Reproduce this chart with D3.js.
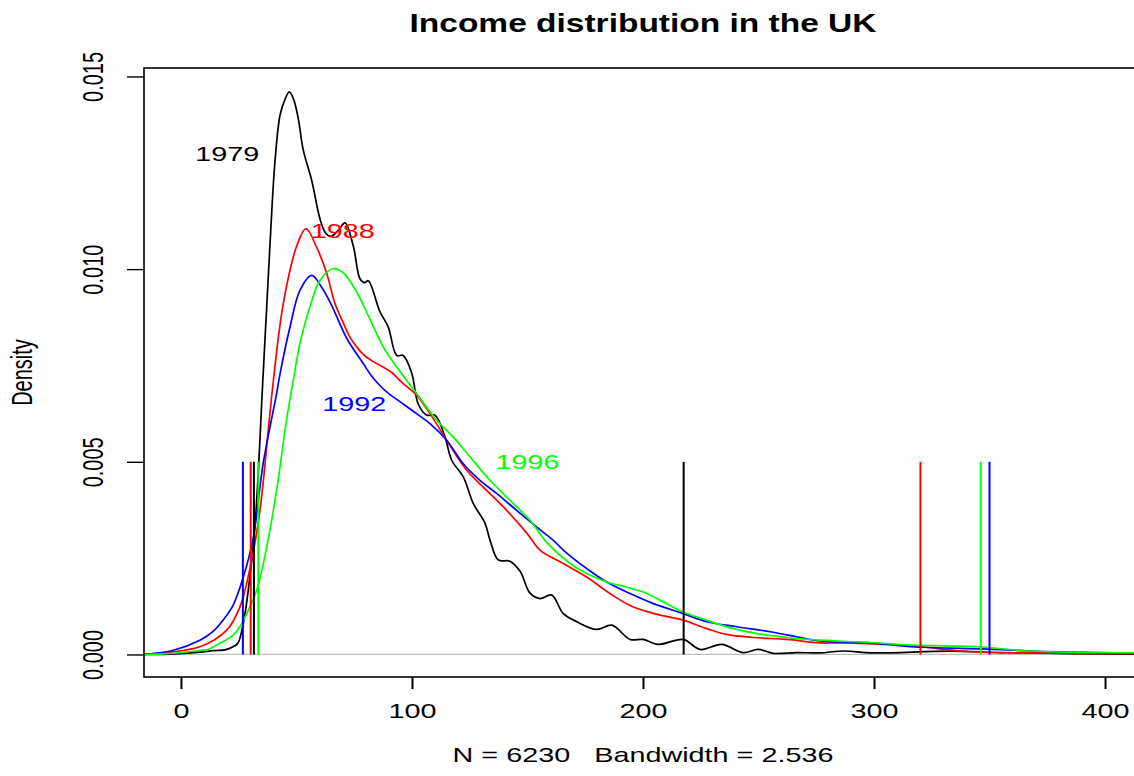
<!DOCTYPE html>
<html>
<head>
<meta charset="utf-8">
<script src="https://cdn.jsdelivr.net/npm/d3@7"></script>
<style>
  html, body { margin: 0; padding: 0; background: #fff; }
  svg { display: block; font-family: "Liberation Sans", Arial, Helvetica, sans-serif; }
  text { white-space: pre; }
</style>
</head>
<body>
<svg id="chart" width="1134" height="776"></svg>
<script>
// ---------------- data ----------------
const years = ["1979", "1988", "1992", "1996"];

const income1979 = [-16, -5, 8, 14, 19, 22.5, 24.7, 26.8, 29, 32, 35.6, 38.5, 40.7, 42.9, 45, 46.9, 48.8, 50.8, 52.9, 56.6, 60.2, 62.5, 64.8, 68, 71, 74.6, 77.5, 79.5, 81.1, 86.1, 89.7, 93.4, 96.2, 99.9, 102.7, 106.4, 110, 114.3, 117.2, 122.2, 126.5, 131.6, 133.8, 137.4, 142.4, 146.8, 151.1, 155.4, 160.5, 165.5, 171.3, 180, 186.5, 194.4, 200.1, 206.6, 217.4, 224.7, 234.1, 243.4, 249.9, 256.4, 266.5, 276.6, 287, 299, 333, 354.5, 367, 389, 416];
const density1979 = [0, 0.00001, 0.00006, 0.0001, 0.00012, 0.0002, 0.0003, 0.00075, 0.0016, 0.0033, 0.0073, 0.0106, 0.0128, 0.0140, 0.0144, 0.0146, 0.0144, 0.0139, 0.0131, 0.0123, 0.0113, 0.01095, 0.01085, 0.0110, 0.0112, 0.0106, 0.00975, 0.00965, 0.0097, 0.0089, 0.0085, 0.00776, 0.00776, 0.0073, 0.0065, 0.00621, 0.00621, 0.00564, 0.00504, 0.00461, 0.00392, 0.00341, 0.00296, 0.00245, 0.00242, 0.00216, 0.00159, 0.00145, 0.00154, 0.00106, 0.00085, 0.00065, 0.00076, 0.00039, 0.00039, 0.00026, 0.00039, 0.00013, 0.00026, 0.00005, 0.00013, 0.00003, 0.00005, 0.00004, 0.00009, 0.00004, 0.000085, 0.00005, 0.00004, 0.00002, 0.00001];

const income1988 = [-16, 8.2, 19.8, 25.5, 29.9, 34.2, 37.8, 40, 43.6, 47.2, 50.1, 54.1, 58.7, 63.1, 66.7, 70.3, 73, 76.1, 79, 83.2, 90.5, 96.2, 102, 107.8, 115, 123.7, 132.3, 141, 149.7, 155.4, 165.5, 175.6, 185.7, 195.8, 207.4, 217.4, 227.6, 236.2, 247.8, 262.2, 276.6, 285.7, 316.2, 341.6, 367.1, 416];
const density1988 = [0, 0.0002, 0.00063, 0.00123, 0.00224, 0.00374, 0.00582, 0.00711, 0.00885, 0.00997, 0.0106, 0.01105, 0.01057, 0.00989, 0.0091, 0.0086, 0.00825, 0.00798, 0.00778, 0.0076, 0.00735, 0.00703, 0.00673, 0.00625, 0.00556, 0.00478, 0.00426, 0.00374, 0.00315, 0.00271, 0.00236, 0.00201, 0.00158, 0.00123, 0.00102, 0.00089, 0.00067, 0.00052, 0.00044, 0.00039, 0.0003, 0.0003, 0.00022, 0.00007, 0.00004, 0.00002];

const income1992 = [-16, -3.3, 8.2, 13.9, 18.2, 22.5, 26.8, 31.2, 35.6, 41.4, 42.9, 47.2, 51.5, 56.6, 60.9, 64.9, 71.8, 78.9, 82.6, 86.1, 89.7, 93.4, 102, 107.8, 115, 122.2, 129.4, 136.6, 145.3, 153.9, 161.2, 165.5, 175.6, 184.3, 194.4, 204.5, 217.4, 227.6, 240.6, 255, 266.5, 276.6, 299.1, 316.2, 350.2, 367.1, 416];
const density1992 = [0, 0.00011, 0.00037, 0.0006, 0.00089, 0.00127, 0.00197, 0.003, 0.00496, 0.00677, 0.00729, 0.0085, 0.00945, 0.00984, 0.00953, 0.0091, 0.0082, 0.00755, 0.00722, 0.00698, 0.00678, 0.00662, 0.00625, 0.00599, 0.00556, 0.00495, 0.00452, 0.00418, 0.00374, 0.00331, 0.00296, 0.00271, 0.00223, 0.00188, 0.00158, 0.00132, 0.00106, 0.00085, 0.00072, 0.00059, 0.00046, 0.00035, 0.0003, 0.0002, 0.00014, 0.00009, 0.00003];

const income1996 = [-16, -6.2, 8.2, 11.1, 16.9, 22.6, 25.5, 28.4, 32.8, 37.1, 41.4, 45.8, 48.6, 51.5, 55.8, 60.2, 65.7, 70.3, 76.1, 81.8, 87.6, 93.4, 102, 110.7, 117.9, 125.1, 133.8, 142.4, 151.1, 158.3, 168.4, 175.6, 184.3, 192.9, 200.1, 207.4, 217.4, 227.6, 239.1, 250.6, 262.2, 276.6, 298.3, 316.2, 345, 367.1, 416];
const density1996 = [0, 0.00002, 0.0001, 0.00012, 0.00029, 0.0005, 0.00072, 0.00105, 0.00167, 0.00278, 0.00426, 0.00612, 0.00711, 0.00807, 0.00902, 0.00971, 0.01001, 0.0099, 0.0094, 0.0087, 0.00798, 0.00746, 0.00677, 0.00608, 0.00564, 0.00513, 0.00452, 0.004, 0.00348, 0.00291, 0.00236, 0.0021, 0.00188, 0.00175, 0.00162, 0.00141, 0.0011, 0.00089, 0.00067, 0.00053, 0.00044, 0.00037, 0.00031, 0.00024, 0.0002, 0.00009, 0.00004];

const lowerMarks = [31.6, 30.2, 26.8, 33.5];     // per year, drawn 0 .. markHeight
const upperMarks = [217.6, 320.1, 350.0, 346.2];
const markHeight = 0.005;

const labelX = [20, 70, 75, 150];
const labelY = [0.013, 0.011, 0.0065, 0.005];

const xTicks = [0, 100, 200, 300, 400];
const yTicks = [0, 0.005, 0.010, 0.015];

const titleText = "Income distribution in the UK";
const xLabelText = "N = 6230   Bandwidth = 2.536";
const yLabelText = "Density";

// ---------------- styles ----------------
const colors = ["#000000", "#FF0000", "#0000FF", "#00FF00"];
const SX = 1.44; // horizontal stretch of the reference

// ---------------- layout ----------------
const pLeft = 144, pRight = 1142, pTop = 68, pBottom = 677;
const svg = d3.select("#chart");

const x = d3.scaleLinear().domain([-16, 416]).range([pLeft, pRight]);
const y = d3.scaleLinear().domain([-0.000585, 0.01522]).range([pBottom, pTop]);

svg.append("rect").attr("width", 1134).attr("height", 776).attr("fill", "#fff");

svg.append("defs").append("clipPath").attr("id", "plotclip")
  .append("rect").attr("x", pLeft).attr("y", pTop).attr("width", pRight - pLeft).attr("height", pBottom - pTop);

const plot = svg.append("g").attr("clip-path", "url(#plotclip)");

// zero line
plot.append("line")
  .attr("x1", pLeft).attr("x2", pRight)
  .attr("y1", y(0)).attr("y2", y(0))
  .attr("stroke", "#BEBEBE").attr("stroke-width", 1.3);

const series = [
  [income1979, density1979],
  [income1988, density1988],
  [income1992, density1992],
  [income1996, density1996]
];

const line = d3.line()
  .x(d => x(d[0]))
  .y(d => y(d[1]))
  .curve(d3.curveCatmullRom.alpha(0.5));

series.forEach((s, i) => {
  const pts = s[0].map((v, k) => [v, s[1][k]]);
  plot.append("path")
    .datum(pts)
    .attr("d", line)
    .attr("fill", "none")
    .attr("stroke", colors[i])
    .attr("stroke-width", 1.7)
    .attr("stroke-linejoin", "round");
});

// vertical marks
years.forEach((yr, i) => {
  [lowerMarks[i], upperMarks[i]].forEach(v => {
    plot.append("line")
      .attr("x1", x(v)).attr("x2", x(v))
      .attr("y1", y(0)).attr("y2", y(markHeight))
      .attr("stroke", colors[i]).attr("stroke-width", 2);
  });
});

// year labels
years.forEach((yr, i) => {
  svg.append("text")
    .attr("transform", `translate(${x(labelX[i])},${y(labelY[i]) + 7.2}) scale(${SX},1)`)
    .attr("text-anchor", "middle")
    .attr("font-size", 20)
    .attr("fill", colors[i])
    .text(yr);
});

// box
svg.append("rect")
  .attr("x", pLeft).attr("y", pTop)
  .attr("width", pRight - pLeft).attr("height", pBottom - pTop)
  .attr("fill", "none").attr("stroke", "#000").attr("stroke-width", 1.6);

// x axis
const gx = svg.append("g")
  .attr("transform", `translate(0,${pBottom})`)
  .call(d3.axisBottom(x).tickValues(xTicks).tickSize(12).tickSizeOuter(0).tickFormat(d3.format("d")));
gx.select(".domain").remove();
gx.selectAll(".tick line").attr("stroke", "#000").attr("stroke-width", 2);
gx.selectAll(".tick text")
  .attr("y", 0).attr("dy", 0)
  .attr("transform", `translate(0,41) scale(${SX},1)`)
  .attr("font-size", 20)
  .attr("font-family", "Liberation Sans, Arial, sans-serif")
  .attr("fill", "#000");

// y axis
const gy = svg.append("g")
  .attr("transform", `translate(${pLeft},0)`)
  .call(d3.axisLeft(y).tickValues(yTicks).tickSize(17).tickSizeOuter(0).tickFormat(d3.format(".3f")));
gy.select(".domain").remove();
gy.selectAll(".tick line").attr("stroke", "#000").attr("stroke-width", 1.4);
gy.selectAll(".tick text")
  .attr("x", 0).attr("y", 0).attr("dy", 0)
  .attr("text-anchor", "middle")
  .attr("transform", `translate(-41,0) scale(${SX},1) rotate(-90)`)
  .attr("font-size", 20)
  .attr("font-family", "Liberation Sans, Arial, sans-serif")
  .attr("fill", "#000");

// title
svg.append("text")
  .attr("transform", `translate(${(pLeft + pRight) / 2},32) scale(1.34,1)`)
  .attr("text-anchor", "middle")
  .attr("font-size", 25)
  .attr("font-weight", "bold")
  .attr("fill", "#000")
  .text(titleText);

// x label
svg.append("text")
  .attr("transform", `translate(${(pLeft + pRight) / 2},762) scale(${SX},1)`)
  .attr("text-anchor", "middle")
  .attr("font-size", 20)
  .attr("fill", "#000")
  .attr("xml:space", "preserve")
  .text(xLabelText);

// y label
svg.append("text")
  .attr("transform", `translate(32,${(pTop + pBottom) / 2}) scale(${SX},1) rotate(-90)`)
  .attr("text-anchor", "middle")
  .attr("font-size", 20)
  .attr("fill", "#000")
  .text(yLabelText);
</script>
</body>
</html>
